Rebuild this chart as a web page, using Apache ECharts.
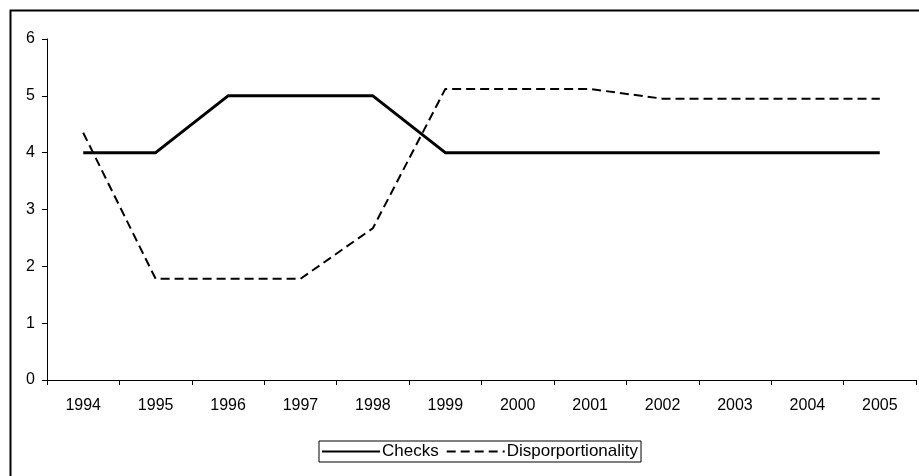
<!DOCTYPE html>
<html>
<head>
<meta charset="utf-8">
<script src="https://cdn.jsdelivr.net/npm/echarts@6/dist/echarts.min.js"></script>
<style>
html,body{margin:0;padding:0;background:#fff;}
#chart{width:919px;height:476px;}
</style>
</head>
<body>
<div id="chart"></div>
<script>
const years = ['1994','1995','1996','1997','1998','1999','2000','2001','2002','2003','2004','2005'];
const checks = [4,4,5,5,5,4,4,4,4,4,4,4];
const disproportionality = [4.35,1.78,1.78,1.78,2.67,5.12,5.12,5.12,4.95,4.95,4.95,4.95];
const yTicks = [0,1,2,3,4,5,6];

const chart = echarts.init(document.getElementById('chart'));
const font = 'Liberation Sans, Arial, sans-serif';
chart.setOption({
  animation: false,
  backgroundColor: '#fff',
  graphic: [{
    type: 'rect', left: 8, top: 8, z: 100,
    shape: {x: 0, y: 0, width: 1000, height: 1000},
    style: {fill: 'none', stroke: '#000', lineWidth: 2}
  }],
  grid: {left: 47, right: 3, top: 39, bottom: 96, containLabel: false},
  legend: {
    left: 319, top: 441,
    padding: [2, 3, 2, 2],
    itemGap: 7,
    itemWidth: 58,
    itemHeight: 14,
    borderColor: '#000', borderWidth: 1,
    itemStyle: {color: 'rgba(0,0,0,0)', borderWidth: 0},
    textStyle: {fontFamily: font, fontSize: 17, color: '#000', padding: [0,0,0,-3]},
    data: ['Checks', 'Disporportionality']
  },
  xAxis: {
    type: 'category', data: years, boundaryGap: true,
    axisLine: {lineStyle: {color: '#000', width: 1}},
    axisTick: {show: true, length: 5, inside: false, lineStyle: {color: '#000'}},
    axisLabel: {fontFamily: font, fontSize: 16, color: '#000', margin: 18}
  },
  yAxis: {
    type: 'value', min: 0, max: 6, interval: 1,
    axisLine: {show: true, lineStyle: {color: '#000', width: 1}},
    axisTick: {show: true, length: 5, lineStyle: {color: '#000'}},
    axisLabel: {fontFamily: font, fontSize: 16, color: '#000', margin: 12,
      formatter: v => yTicks.includes(v) ? String(v) : ''},
    splitLine: {show: false}
  },
  series: [
    {name: 'Checks', type: 'line', data: checks, symbol: 'none',
     lineStyle: {color: '#000', width: 3}, itemStyle: {color: '#000'}},
    {name: 'Disporportionality', type: 'line', data: disproportionality, symbol: 'none',
     lineStyle: {color: '#000', width: 2, type: [9, 5]}, itemStyle: {color: '#000'}}
  ]
});
</script>
</body>
</html>
